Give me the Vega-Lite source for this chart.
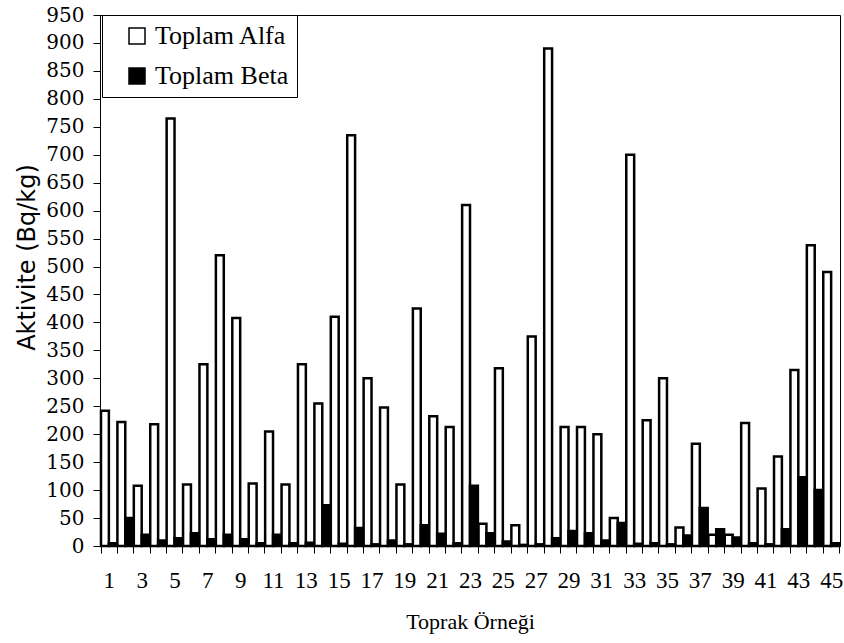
{
  "$schema": "https://vega.github.io/schema/vega-lite/v6.json",
  "width": 740,
  "height": 531,
  "autosize": {"type": "none"},
  "padding": {"left": 100, "top": 15, "right": 4, "bottom": 97},
  "background": "white",
  "config": {
    "view": {"stroke": "black", "strokeWidth": 1},
    "axis": {"grid": false, "domainColor": "black", "tickColor": "black", "labelColor": "black", "titleColor": "black"}
  },
  "data": {
    "values": [
      {"s": 1, "t": "Toplam Alfa", "v": 242}, {"s": 1, "t": "Toplam Beta", "v": 5},
      {"s": 2, "t": "Toplam Alfa", "v": 222}, {"s": 2, "t": "Toplam Beta", "v": 50},
      {"s": 3, "t": "Toplam Alfa", "v": 108}, {"s": 3, "t": "Toplam Beta", "v": 20},
      {"s": 4, "t": "Toplam Alfa", "v": 218}, {"s": 4, "t": "Toplam Beta", "v": 10},
      {"s": 5, "t": "Toplam Alfa", "v": 765}, {"s": 5, "t": "Toplam Beta", "v": 14},
      {"s": 6, "t": "Toplam Alfa", "v": 110}, {"s": 6, "t": "Toplam Beta", "v": 23},
      {"s": 7, "t": "Toplam Alfa", "v": 325}, {"s": 7, "t": "Toplam Beta", "v": 12},
      {"s": 8, "t": "Toplam Alfa", "v": 520}, {"s": 8, "t": "Toplam Beta", "v": 20},
      {"s": 9, "t": "Toplam Alfa", "v": 408}, {"s": 9, "t": "Toplam Beta", "v": 12},
      {"s": 10, "t": "Toplam Alfa", "v": 112}, {"s": 10, "t": "Toplam Beta", "v": 5},
      {"s": 11, "t": "Toplam Alfa", "v": 205}, {"s": 11, "t": "Toplam Beta", "v": 20},
      {"s": 12, "t": "Toplam Alfa", "v": 110}, {"s": 12, "t": "Toplam Beta", "v": 5},
      {"s": 13, "t": "Toplam Alfa", "v": 325}, {"s": 13, "t": "Toplam Beta", "v": 6},
      {"s": 14, "t": "Toplam Alfa", "v": 255}, {"s": 14, "t": "Toplam Beta", "v": 73},
      {"s": 15, "t": "Toplam Alfa", "v": 410}, {"s": 15, "t": "Toplam Beta", "v": 4},
      {"s": 16, "t": "Toplam Alfa", "v": 735}, {"s": 16, "t": "Toplam Beta", "v": 32},
      {"s": 17, "t": "Toplam Alfa", "v": 300}, {"s": 17, "t": "Toplam Beta", "v": 3},
      {"s": 18, "t": "Toplam Alfa", "v": 248}, {"s": 18, "t": "Toplam Beta", "v": 10},
      {"s": 19, "t": "Toplam Alfa", "v": 110}, {"s": 19, "t": "Toplam Beta", "v": 3},
      {"s": 20, "t": "Toplam Alfa", "v": 425}, {"s": 20, "t": "Toplam Beta", "v": 37},
      {"s": 21, "t": "Toplam Alfa", "v": 232}, {"s": 21, "t": "Toplam Beta", "v": 22},
      {"s": 22, "t": "Toplam Alfa", "v": 213}, {"s": 22, "t": "Toplam Beta", "v": 5},
      {"s": 23, "t": "Toplam Alfa", "v": 610}, {"s": 23, "t": "Toplam Beta", "v": 108},
      {"s": 24, "t": "Toplam Alfa", "v": 40}, {"s": 24, "t": "Toplam Beta", "v": 23},
      {"s": 25, "t": "Toplam Alfa", "v": 318}, {"s": 25, "t": "Toplam Beta", "v": 8},
      {"s": 26, "t": "Toplam Alfa", "v": 37}, {"s": 26, "t": "Toplam Beta", "v": 2},
      {"s": 27, "t": "Toplam Alfa", "v": 375}, {"s": 27, "t": "Toplam Beta", "v": 3},
      {"s": 28, "t": "Toplam Alfa", "v": 890}, {"s": 28, "t": "Toplam Beta", "v": 14},
      {"s": 29, "t": "Toplam Alfa", "v": 213}, {"s": 29, "t": "Toplam Beta", "v": 27},
      {"s": 30, "t": "Toplam Alfa", "v": 213}, {"s": 30, "t": "Toplam Beta", "v": 23},
      {"s": 31, "t": "Toplam Alfa", "v": 200}, {"s": 31, "t": "Toplam Beta", "v": 10},
      {"s": 32, "t": "Toplam Alfa", "v": 50}, {"s": 32, "t": "Toplam Beta", "v": 41},
      {"s": 33, "t": "Toplam Alfa", "v": 700}, {"s": 33, "t": "Toplam Beta", "v": 4},
      {"s": 34, "t": "Toplam Alfa", "v": 225}, {"s": 34, "t": "Toplam Beta", "v": 5},
      {"s": 35, "t": "Toplam Alfa", "v": 300}, {"s": 35, "t": "Toplam Beta", "v": 3},
      {"s": 36, "t": "Toplam Alfa", "v": 33}, {"s": 36, "t": "Toplam Beta", "v": 19},
      {"s": 37, "t": "Toplam Alfa", "v": 183}, {"s": 37, "t": "Toplam Beta", "v": 68},
      {"s": 38, "t": "Toplam Alfa", "v": 20}, {"s": 38, "t": "Toplam Beta", "v": 30},
      {"s": 39, "t": "Toplam Alfa", "v": 20}, {"s": 39, "t": "Toplam Beta", "v": 15},
      {"s": 40, "t": "Toplam Alfa", "v": 220}, {"s": 40, "t": "Toplam Beta", "v": 5},
      {"s": 41, "t": "Toplam Alfa", "v": 103}, {"s": 41, "t": "Toplam Beta", "v": 3},
      {"s": 42, "t": "Toplam Alfa", "v": 160}, {"s": 42, "t": "Toplam Beta", "v": 30},
      {"s": 43, "t": "Toplam Alfa", "v": 315}, {"s": 43, "t": "Toplam Beta", "v": 123},
      {"s": 44, "t": "Toplam Alfa", "v": 538}, {"s": 44, "t": "Toplam Beta", "v": 100},
      {"s": 45, "t": "Toplam Alfa", "v": 490}, {"s": 45, "t": "Toplam Beta", "v": 5}
    ]
  },
  "mark": {"type": "bar", "stroke": "black", "strokeWidth": 2.5},
  "encoding": {
    "x": {
      "field": "s", "type": "ordinal",
      "scale": {"paddingInner": 0.04, "paddingOuter": 0.06},
      "axis": {
        "title": "Toprak Örneği",
        "titleFont": "Liberation Serif", "titleFontSize": 22, "titleFontWeight": "normal", "titlePadding": 19,
        "labelFont": "Liberation Serif", "labelFontSize": 23, "labelAngle": 0, "labelPadding": 16,
        "labelExpr": "datum.value % 2 == 1 ? datum.label : ''",
        "tickBand": "extent", "tickSize": 7, "labelOverlap": false
      }
    },
    "xOffset": {"field": "t", "type": "nominal", "scale": {"paddingInner": 0}},
    "y": {
      "field": "v", "type": "quantitative",
      "scale": {"domain": [0, 950], "nice": false},
      "axis": {
        "title": "Aktivite (Bq/kg)", "values": [0,50,100,150,200,250,300,350,400,450,500,550,600,650,700,750,800,850,900,950],
        "titleFont": "DejaVu Sans", "titleFontSize": 24, "titleFontWeight": "normal", "titlePadding": 6, "titleY": 242,
        "labelFont": "DejaVu Serif", "labelFontSize": 20, "labelPadding": 9, "tickSize": 7
      }
    },
    "fill": {
      "field": "t", "type": "nominal",
      "scale": {"domain": ["Toplam Alfa", "Toplam Beta"], "range": ["white", "black"]},
      "legend": {
        "title": null, "orient": "none", "legendX": 2, "legendY": 0,
        "strokeColor": "black", "fillColor": "white", "padding": 8,
        "labelFont": "Liberation Serif", "labelFontSize": 26, "labelColor": "black",
        "labelExpr": "datum.label + '   '",
        "symbolType": "square", "symbolSize": 256, "symbolStrokeColor": "black", "symbolStrokeWidth": 1.5,
        "symbolOffset": 14, "rowPadding": 14, "labelOffset": 5
      }
    }
  }
}
